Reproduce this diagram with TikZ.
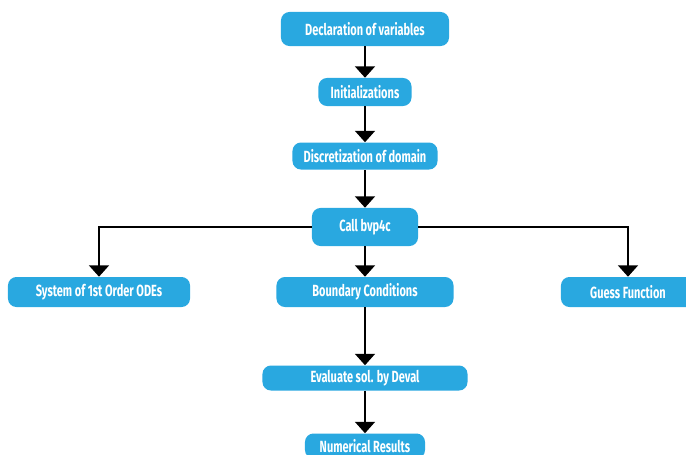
\documentclass[tikz,border=0pt]{standalone}
\usepackage{fontspec}
\newfontfamily\boxfont[FakeStretch=0.68]{Fira Sans}
\usepackage{xcolor}
\definecolor{StepBlue}{RGB}{41,168,224}
\usepackage{tikz}
\usetikzlibrary{arrows.meta,positioning}

\newcommand{\px}{0.7113pt}
\tikzset{
  stepbox/.style={fill=StepBlue,draw=none,rounded corners=6pt,text=white,
    font=\boxfont\bfseries\fontsize{11.5}{13}\selectfont,inner sep=0pt},
  flow/.style={line width=1.3pt,-{Triangle[width=14pt,length=8pt]}}
}

\begin{document}
\begin{tikzpicture}[x=0.025cm,y=-0.025cm]
  \useasboundingbox (0,0) rectangle (686,455);
  % main column
  \node[stepbox,minimum width=168*\px,minimum height=34*\px] (decl) at (365,29) {Declaration of variables};
  \node[stepbox,minimum width=93*\px,minimum height=28*\px]  (init) at (365,92) {Initializations};
  \node[stepbox,minimum width=145*\px,minimum height=27*\px] (disc) at (365,156) {Discretization of domain};
  \node[stepbox,minimum width=106*\px,minimum height=38*\px] (call) at (365,227) {Call bvp4c};
  \node[stepbox,minimum width=177*\px,minimum height=30*\px] (bc)   at (365,292) {Boundary Conditions};
  \node[stepbox,minimum width=205*\px,minimum height=25*\px] (eval) at (365,378) {Evaluate sol. by Deval};
  \node[stepbox,minimum width=120*\px,minimum height=25*\px] (num)  at (365,446) {Numerical Results};
  % side branches
  \node[stepbox,minimum width=182*\px,minimum height=30*\px] (ode)   at (99,292) {System of 1st Order ODEs};
  \node[stepbox,minimum width=134*\px,minimum height=30*\px] (guess) at (628,292) {Guess Function};

  \draw[flow] (decl) -- (init);
  \draw[flow] (init) -- (disc);
  \draw[flow] (disc) -- (call);
  \draw[flow] (call) -- (bc);
  \draw[flow] (bc) -- (eval);
  \draw[flow] (eval) -- (num);
  \draw[flow] (call.west) -| (ode.north);
  \draw[flow] (call.east) -| (guess.north);
\end{tikzpicture}
\end{document}
